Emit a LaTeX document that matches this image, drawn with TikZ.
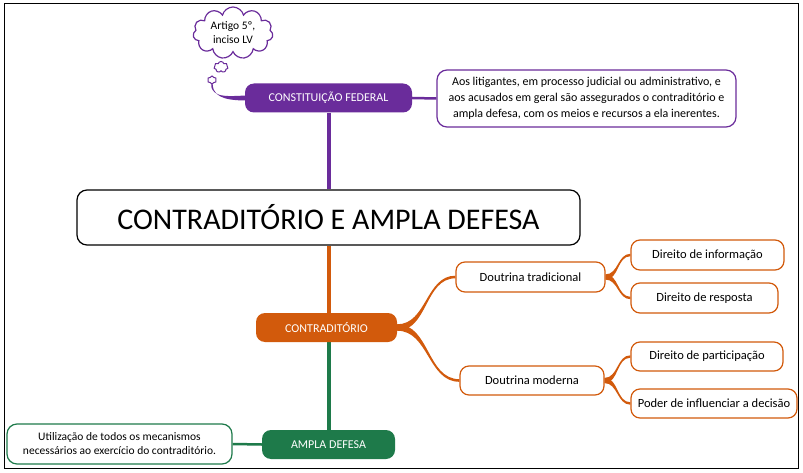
\documentclass[tikz,border=0pt]{standalone}
\usepackage{fontspec}
\setmainfont{Carlito}
\usetikzlibrary{shapes.symbols,calc,backgrounds}
\definecolor{cpurple}{HTML}{6A2C9B}
\definecolor{corange}{HTML}{D25A0C}
\definecolor{cgreen}{HTML}{1E7A4A}
\newcommand{\taperlink}[5]{%
  \fill[#1] ($(#2)+(0,-#4)$) to[out=0,in=180] ($(#3)+(0,-#5)$) -- ($(#3)+(0,#5)$) to[out=180,in=0] ($(#2)+(0,#4)$) -- cycle;}
\begin{document}
\begin{tikzpicture}[x=1pt,y=-1pt,
  solidbox/.style={rounded corners=9pt, minimum height=29pt, text=white, font=\fontsize{12}{14}\selectfont, align=center, inner sep=0pt},
  leafbox/.style={draw=corange, line width=1.2pt, fill=white, rounded corners=9pt, minimum height=30pt, font=\fontsize{12.5}{15}\selectfont, inner sep=0pt},
  note/.style={fill=white, rounded corners=10pt, line width=1.2pt, align=center, font=\fontsize{12}{16}\selectfont, inner sep=0pt},
  bubble/.style={cloud, draw=cpurple, fill=white, inner sep=0pt}]
\useasboundingbox (0,0) rectangle (803,473);
\node[solidbox, fill=cpurple, minimum width=167pt] (cf) at (328.5,98) {CONSTITUIÇÃO FEDERAL};
\node[note, draw=cpurple, minimum width=299pt, minimum height=57pt] (lei) at (586.5,98.5) {Aos litigantes, em processo judicial ou administrativo, e\\aos acusados em geral são assegurados o contraditório e\\ampla defesa, com os meios e recursos a ela inerentes.};
\node[draw=black, line width=1.2pt, rounded corners=10pt, minimum width=503pt, minimum height=55pt, fill=white, inner sep=0pt, font=\fontsize{30}{30}\selectfont] (main) at (328.5,217.5) {CONTRADITÓRIO E AMPLA DEFESA};
\node[solidbox, fill=corange, minimum width=141pt] (ctr) at (326.5,327.5) {CONTRADITÓRIO};
\node[leafbox, minimum width=149pt] (dt) at (530.5,277) {Doutrina tradicional};
\node[leafbox, minimum width=153pt] (di) at (707.5,255) {Direito de informação};
\node[leafbox, minimum width=147pt] (dr) at (704.5,298) {Direito de resposta};
\node[leafbox, minimum width=144pt, minimum height=29pt] (dm) at (532,380.5) {Doutrina moderna};
\node[leafbox, minimum width=152pt, minimum height=29pt] (dp) at (707,356.5) {Direito de participação};
\node[leafbox, minimum width=166pt, minimum height=29pt] (pi) at (714,403.5) {Poder de influenciar a decisão};
\node[solidbox, fill=cgreen, minimum width=133pt] (amp) at (328.5,444.5) {AMPLA DEFESA};
\node[note, draw=cgreen, minimum width=225pt, minimum height=40pt, font=\fontsize{11.5}{14}\selectfont] (uti) at (119.5,444) {Utilização de todos os mecanismos\\necessários ao exercício do contraditório.};
\node[bubble, line width=1.2pt, cloud puffs=11, cloud ignores aspect, minimum width=80pt, minimum height=52pt, align=center, font=\fontsize{11.5}{14}\selectfont] (art) at (233,33) {Artigo 5º,\\inciso LV};
\node[bubble, line width=1pt, cloud puffs=7, cloud ignores aspect, minimum width=14pt, minimum height=11pt] (b1) at (221,67) {};
\node[bubble, line width=1pt, cloud puffs=6, cloud ignores aspect, minimum width=9pt, minimum height=8pt] (b2) at (212,80) {};
\begin{scope}[on background layer]
  \fill[white] (0,0) rectangle (803,473);
  \draw[black, line width=1pt] (4,4) rectangle (798,468);
  \draw[cpurple, line width=4pt] (cf.south) -- (main.north);
  \draw[corange, line width=4pt] (main.south) -- (main.south |- ctr.north);
  \draw[cgreen, line width=4pt] (ctr.south -| amp.north) -- (amp.north);
  \draw[cpurple, line width=2.5pt] (cf.east) -- (lei.west);
  \draw[cgreen, line width=2.5pt] (amp.west) -- (uti.east);
  \taperlink{corange}{ctr.east}{dt.west}{3.2}{1.3}
  \taperlink{corange}{ctr.east}{dm.west}{3.2}{1.3}
  \taperlink{corange}{dt.east}{di.west}{2.6}{1.2}
  \taperlink{corange}{dt.east}{dr.west}{2.6}{1.2}
  \taperlink{corange}{dm.east}{dp.west}{2.6}{1.2}
  \taperlink{corange}{dm.east}{pi.west}{2.6}{1.2}
  \fill[cpurple] ($(b2.south)+(-0.8,0)$) to[out=-90,in=180] ($(cf.west)+(4,-2.5)$) -- ($(cf.west)+(4,2.5)$) to[out=180,in=-90] ($(b2.south)+(0.8,0)$) -- cycle;
\end{scope}
\end{tikzpicture}
\end{document}
